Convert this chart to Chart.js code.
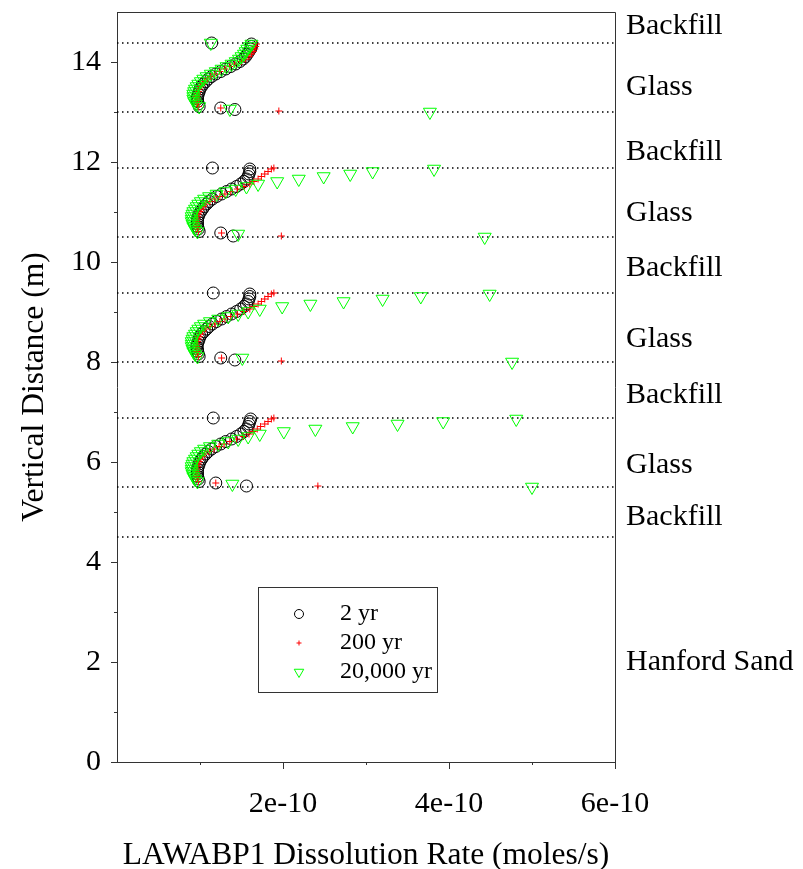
<!DOCTYPE html>
<html>
<head>
<meta charset="utf-8">
<title>LAWABP1 Dissolution Rate</title>
<script src="https://cdn.jsdelivr.net/npm/chart.js@4.4.1/dist/chart.umd.min.js"></script>
<style>
  html, body { margin: 0; padding: 0; background: #fff; }
  canvas { display: block; }
</style>
</head>
<body>
<canvas id="rateChart" width="803" height="869"></canvas>
<script>
// rates are in units of 1e-10 moles/s, depths in m
const glassDepth = [
    5.61, 5.66, 5.71, 5.76, 5.81, 5.86, 5.91, 5.96, 6.01, 6.06, 6.11, 6.16, 6.21,
    6.26, 6.31, 6.36, 6.41, 6.46, 6.51, 6.56, 6.61, 6.66, 6.71, 6.76, 6.81, 6.86,
    8.11, 8.16, 8.21, 8.26, 8.31, 8.36, 8.41, 8.46, 8.51, 8.56, 8.61, 8.66, 8.71,
    8.76, 8.81, 8.86, 8.91, 8.96, 9.01, 9.06, 9.11, 9.16, 9.21, 9.26, 9.31, 9.36,
    10.61, 10.66, 10.71, 10.76, 10.81, 10.86, 10.91, 10.96, 11.01, 11.06, 11.11, 11.16, 11.21,
    11.26, 11.31, 11.36, 11.41, 11.46, 11.51, 11.56, 11.61, 11.66, 11.71, 11.76, 11.81, 11.86,
    13.11, 13.16, 13.21, 13.26, 13.31, 13.36, 13.41, 13.46, 13.51, 13.56, 13.61, 13.66, 13.71,
    13.76, 13.81, 13.86, 13.91, 13.96, 14.01, 14.06, 14.11, 14.16, 14.21, 14.26, 14.31, 14.36
];

const rate2yr = [
    0.99, 0.98, 0.97, 0.97, 0.97, 0.97, 0.98, 0.99, 1.00, 1.02, 1.04, 1.07, 1.10,
    1.14, 1.19, 1.25, 1.31, 1.38, 1.44, 1.49, 1.53, 1.56, 1.58, 1.59, 1.60, 1.61,
    0.99, 0.98, 0.97, 0.97, 0.96, 0.97, 0.98, 0.99, 1.00, 1.02, 1.05, 1.08, 1.11,
    1.15, 1.20, 1.26, 1.32, 1.38, 1.44, 1.49, 1.53, 1.56, 1.58, 1.59, 1.60, 1.60,
    0.99, 0.98, 0.97, 0.97, 0.97, 0.97, 0.98, 0.99, 1.01, 1.03, 1.05, 1.08, 1.11,
    1.15, 1.20, 1.26, 1.32, 1.38, 1.44, 1.49, 1.53, 1.56, 1.58, 1.59, 1.60, 1.60,
    0.99, 0.98, 0.97, 0.97, 0.97, 0.98, 0.99, 1.00, 1.02, 1.04, 1.07, 1.10, 1.14,
    1.19, 1.25, 1.31, 1.37, 1.43, 1.48, 1.52, 1.55, 1.57, 1.59, 1.61, 1.62, 1.62
];

const rate200yr = [
    0.98, 0.97, 0.96, 0.96, 0.96, 0.96, 0.97, 0.98, 0.99, 1.01, 1.03, 1.06, 1.11,
    1.17, 1.23, 1.29, 1.36, 1.44, 1.52, 1.59, 1.64, 1.69, 1.73, 1.78, 1.82, 1.86,
    0.98, 0.97, 0.96, 0.96, 0.96, 0.96, 0.97, 0.98, 0.99, 1.01, 1.03, 1.07, 1.12,
    1.18, 1.24, 1.30, 1.37, 1.45, 1.53, 1.60, 1.65, 1.70, 1.74, 1.78, 1.82, 1.86,
    0.98, 0.97, 0.96, 0.96, 0.96, 0.96, 0.97, 0.98, 1.00, 1.02, 1.04, 1.07, 1.12,
    1.18, 1.24, 1.30, 1.37, 1.45, 1.53, 1.60, 1.65, 1.70, 1.74, 1.78, 1.82, 1.86,
    0.98, 0.97, 0.96, 0.96, 0.96, 0.97, 0.98, 0.99, 1.01, 1.03, 1.06, 1.09, 1.13,
    1.18, 1.24, 1.30, 1.36, 1.42, 1.50, 1.55, 1.59, 1.62, 1.64, 1.66, 1.67, 1.68
];

const rate20kyr = [
    0.97, 0.94, 0.92, 0.91, 0.90, 0.90, 0.90, 0.91, 0.92, 0.94, 0.96, 0.98, 1.01,
    1.05, 1.12, 1.22, 1.34, 1.46, 1.58, 1.72, 2.01, 2.39, 2.84, 3.38, 3.93, 4.81,
    0.97, 0.94, 0.92, 0.91, 0.90, 0.90, 0.90, 0.91, 0.92, 0.94, 0.96, 0.98, 1.01,
    1.05, 1.12, 1.22, 1.34, 1.46, 1.58, 1.72, 1.99, 2.33, 2.73, 3.20, 3.66, 4.49,
    0.97, 0.94, 0.92, 0.91, 0.90, 0.90, 0.90, 0.91, 0.92, 0.94, 0.96, 0.98, 1.01,
    1.05, 1.11, 1.20, 1.31, 1.43, 1.56, 1.70, 1.93, 2.19, 2.49, 2.81, 3.08, 3.82,
    0.99, 0.95, 0.93, 0.92, 0.92, 0.92, 0.93, 0.94, 0.96, 0.98, 1.01, 1.04, 1.08,
    1.13, 1.19, 1.26, 1.32, 1.38, 1.43, 1.47, 1.50, 1.53, 1.55, 1.57, 1.60, 1.62
];

// nodes at the glass / backfill contacts
const edgeDepth2yr = [5.52, 5.58, 6.88, 8.04, 8.08, 9.38, 10.52, 10.58, 11.88, 13.05, 13.08, 14.38];
const edgeRate2yr = [1.56, 1.19, 1.16, 1.42, 1.25, 1.16, 1.40, 1.25, 1.15, 1.42, 1.25, 1.14];
const edgeDepth200yr = [5.52, 5.58, 6.88, 8.02, 8.08, 9.38, 10.52, 10.58, 11.88, 13.02, 13.08];
const edgeRate200yr = [2.42, 1.19, 1.89, 1.98, 1.26, 1.89, 1.98, 1.26, 1.89, 1.95, 1.25];
const edgeDepth20kyr = [5.50, 5.56, 8.00, 8.08, 10.50, 10.56, 13.00, 13.06, 14.38];
const edgeRate20kyr = [5.00, 1.39, 4.76, 1.51, 4.43, 1.46, 3.77, 1.36, 1.13];

const layerTops = [4.5, 5.5, 6.88, 8.0, 9.38, 10.5, 11.88, 13.0, 14.38];
const layerNames = ['Backfill', 'Glass', 'Backfill', 'Glass', 'Backfill', 'Glass', 'Backfill', 'Glass', 'Backfill', 'Hanford Sand'];
const layerNameDepth = [14.72, 13.5, 12.2, 10.98, 9.88, 8.46, 7.34, 5.94, 4.9, 2.0];

const seriesNames = ['2 yr', '200 yr', '20,000 yr'];

const SERIF = '"Liberation Serif", "Times New Roman", serif';
const GREEN = '#00ff00';

function toPoints(depths, rates) {
    return depths.map((d, i) => ({ x: rates[i], y: d }));
}

const boundaryLines = layerTops.map(d => ({
    type: 'line',
    data: [{ x: 0, y: d }, { x: 6, y: d }],
    borderColor: '#000',
    borderWidth: 1.3,
    borderDash: [1.5, 3.5],
    pointRadius: 0,
    order: 10
}));

// tick marks, frame, layer names and the boxed legend
const decorPlugin = {
    id: 'decor',
    afterDraw(chart) {
        const { ctx, chartArea: a, scales: { x, y } } = chart;
        ctx.save();
        ctx.strokeStyle = '#333';
        ctx.lineWidth = 1;
        ctx.beginPath();
        ctx.moveTo(a.left, a.top + 0.5);
        ctx.lineTo(a.right + 0.5, a.top + 0.5);
        ctx.lineTo(a.right + 0.5, a.bottom);
        y.ticks.forEach(t => {
            if (t.value >= y.max) return;
            const py = Math.round(y.getPixelForValue(t.value)) + 0.5;
            const len = t.value % 2 === 0 ? 6 : 3;
            ctx.moveTo(a.left - len, py);
            ctx.lineTo(a.left, py);
        });
        x.ticks.forEach(t => {
            if (t.value <= x.min) return;
            const px = Math.round(x.getPixelForValue(t.value)) + 0.5;
            const len = t.value % 2 === 0 ? 7 : 3;
            ctx.moveTo(px, a.bottom);
            ctx.lineTo(px, a.bottom + len);
        });
        ctx.stroke();

        ctx.fillStyle = '#000';
        ctx.font = '30px ' + SERIF;
        ctx.textAlign = 'left';
        ctx.textBaseline = 'middle';
        layerNames.forEach((name, i) => {
            ctx.fillText(name, a.right + 11, y.getPixelForValue(layerNameDepth[i]));
        });

        // legend box
        const bx = a.left + 141, by = a.top + 575, bw = 179, bh = 105;
        ctx.strokeStyle = '#333';
        ctx.strokeRect(bx + 0.5, by + 0.5, bw, bh);
        ctx.font = '24px ' + SERIF;
        const styles = [
            { style: 'circle', color: '#000', r: 4.5, rot: 0 },
            { style: 'cross', color: 'red', r: 2.5, rot: 0 },
            { style: 'triangle', color: GREEN, r: 5.5, rot: 180 }
        ];
        seriesNames.forEach((name, i) => {
            const cy = by + 27 + i * 29;
            ctx.strokeStyle = styles[i].color;
            ctx.fillStyle = 'rgba(0,0,0,0)';
            ctx.lineWidth = 1;
            Chart.helpers.drawPoint(ctx, {
                pointStyle: styles[i].style,
                radius: styles[i].r,
                rotation: styles[i].rot,
                borderWidth: 1
            }, bx + 41, cy);
            ctx.fillStyle = '#000';
            ctx.fillText(name, bx + 82, cy);
        });
        ctx.restore();
    }
};

new Chart(document.getElementById('rateChart').getContext('2d'), {
    type: 'scatter',
    data: {
        datasets: [
            {
                label: seriesNames[0],
                data: toPoints(glassDepth, rate2yr).concat(toPoints(edgeDepth2yr, edgeRate2yr)),
                pointStyle: 'circle',
                pointRadius: 6,
                borderColor: '#000',
                backgroundColor: 'rgba(0,0,0,0)',
                borderWidth: 1,
                order: 3
            },
            {
                label: seriesNames[1],
                data: toPoints(glassDepth, rate200yr).concat(toPoints(edgeDepth200yr, edgeRate200yr)),
                pointStyle: 'cross',
                pointRadius: 3.5,
                borderColor: 'red',
                backgroundColor: 'red',
                borderWidth: 1,
                order: 2
            },
            {
                label: seriesNames[2],
                data: toPoints(glassDepth, rate20kyr).concat(toPoints(edgeDepth20kyr, edgeRate20kyr)),
                pointStyle: 'triangle',
                pointRotation: 180,
                pointRadius: 7.5,
                borderColor: GREEN,
                backgroundColor: 'rgba(0,0,0,0)',
                borderWidth: 1,
                order: 1
            },
            ...boundaryLines
        ]
    },
    options: {
        responsive: false,
        animation: false,
        events: [],
        layout: { padding: { left: 0, top: 12, right: 188, bottom: 0 } },
        plugins: {
            legend: { display: false },
            tooltip: { enabled: false }
        },
        scales: {
            x: {
                type: 'linear',
                min: 0,
                max: 6,
                grid: { display: false, drawTicks: false },
                border: { color: '#333', width: 1 },
                ticks: {
                    stepSize: 1,
                    autoSkip: false,
                    maxRotation: 0,
                    padding: 24,
                    color: '#000',
                    font: { family: SERIF, size: 30 },
                    callback: v => (v > 0 && v % 2 === 0) ? v + 'e-10' : ''
                },
                title: {
                    display: true,
                    text: 'LAWABP1 Dissolution Rate (moles/s)',
                    color: '#000',
                    font: { family: SERIF, size: 31.5, lineHeight: 1 },
                    padding: { top: 0, bottom: -2 }
                },
                afterFit(scale) {
                    scale.height = 107;
                    scale.paddingLeft = 0;
                    scale.paddingRight = 0;
                }
            },
            y: {
                type: 'linear',
                min: 0,
                max: 15,
                grid: { display: false, drawTicks: false },
                border: { color: '#333', width: 1 },
                ticks: {
                    stepSize: 1,
                    autoSkip: false,
                    padding: 16,
                    color: '#000',
                    font: { family: SERIF, size: 30 },
                    callback: v => v % 2 === 0 ? String(v) : ''
                },
                title: {
                    display: true,
                    text: 'Vertical Distance (m)',
                    color: '#000',
                    font: { family: SERIF, size: 31.5, lineHeight: 1 },
                    padding: { top: 19, bottom: 0 }
                },
                afterFit(scale) {
                    scale.width = 117;
                    scale.paddingTop = 0;
                    scale.paddingBottom = 0;
                }
            }
        }
    },
    plugins: [decorPlugin]
});
</script>
</body>
</html>
